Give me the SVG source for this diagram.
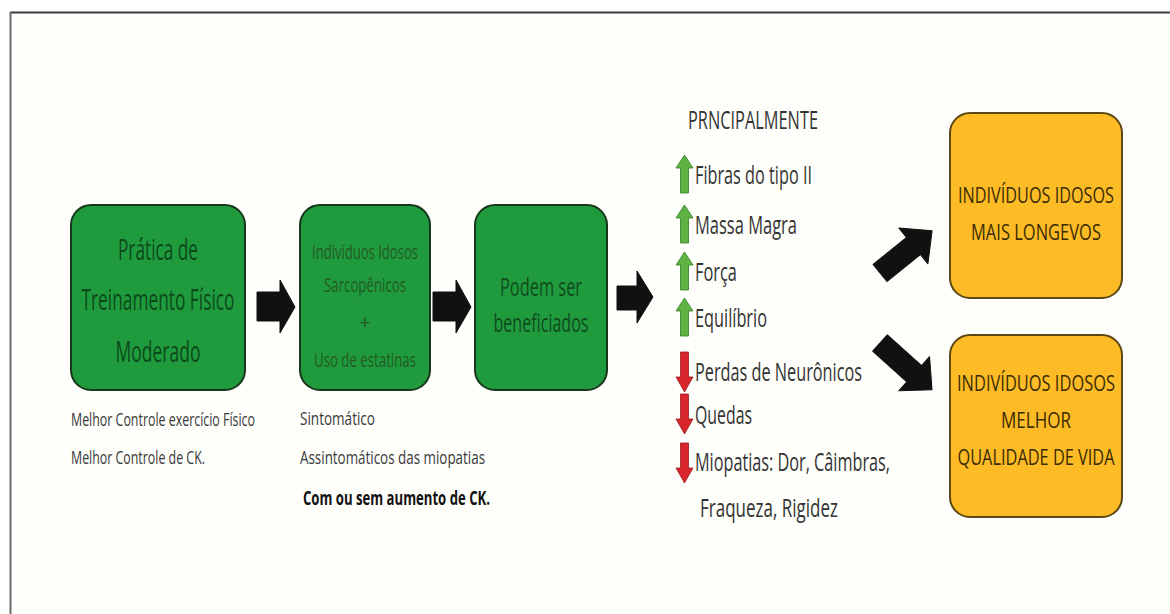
<svg xmlns="http://www.w3.org/2000/svg" xmlns:xlink="http://www.w3.org/1999/xlink" width="1170" height="614" viewBox="0 0 1170 614">
<style>
text{font-family:"Open Sans","Noto Sans","Liberation Sans",sans-serif;}
.gbox{fill:#1f9b3d;stroke:#17361c;stroke-width:2;}
.ybox{fill:#fdbb26;stroke:#5b4812;stroke-width:2;}
.g1{fill:#0c4a1b;font-size:30px;text-anchor:middle;}
.g2{fill:#245a24;font-size:20px;text-anchor:middle;}
.g3{fill:#0f4c1e;font-size:26px;text-anchor:middle;}
.y{fill:#3a2b02;font-size:21px;text-anchor:middle;}
.lab{fill:#3a3a3a;font-size:19px;}
.labb{fill:#111;font-size:19px;font-weight:bold;}
.li{fill:#333;font-size:25px;}
.blk{fill:#111;stroke:#111;stroke-width:1;stroke-linejoin:round;}
</style>
<defs>
<polygon id="up" points="8.5,0 17,13 12.5,13 12.5,38 4.5,38 4.5,13 0,13" fill="#5fb342" stroke="#2f7d25" stroke-width="0.8"/>
<polygon id="down" points="4.5,0 12.5,0 12.5,25 17,25 8.5,40 0,25 4.5,25" fill="#d8262c" stroke="#9e1a1e" stroke-width="0.8"/>
</defs>
<rect x="0" y="0" width="1170" height="614" fill="#ffffff"/>
<rect x="10" y="12" width="1162" height="604" fill="#fefefa"/>
<line x1="10" y1="12.5" x2="1170" y2="12.5" stroke="#3c3c3c" stroke-width="2"/>
<line x1="10.5" y1="12" x2="10.5" y2="614" stroke="#6a6a6a" stroke-width="2"/>

<g id="connectors">
<polygon class="blk" points="257,292 280,292 280,280 295,307 280,333 280,321 257,321"/>
<polygon class="blk" points="433,292 456,292 456,280 471,307 456,333 456,321 433,321"/>
<polygon class="blk" points="617,286 637,286 637,271 653,297 637,323 637,310 617,310"/>
<polygon class="blk" transform="translate(880,273) rotate(-39)" points="0,-11 43,-11 43,-23 67,0 43,23 43,11 0,11"/>
<polygon class="blk" transform="translate(880,343) rotate(42)" points="0,-11 46,-11 46,-23 70,0 46,23 46,11 0,11"/>
</g>

<g id="node-pratica">
<rect class="gbox" x="71" y="205" width="174" height="185" rx="20"/>
<text class="g1" transform="translate(158 260) scale(0.58 1)" textLength="137.9" lengthAdjust="spacingAndGlyphs">Prática de</text>
<text class="g1" transform="translate(158 310) scale(0.58 1)" textLength="263.8" lengthAdjust="spacingAndGlyphs">Treinamento Físico</text>
<text class="g1" transform="translate(158 362) scale(0.58 1)" textLength="146.6" lengthAdjust="spacingAndGlyphs">Moderado</text>
</g>
<g id="label-pratica">
<text class="lab" transform="translate(71 426) scale(0.58 1)" textLength="317.2" lengthAdjust="spacingAndGlyphs">Melhor Controle exercício Físico</text>
<text class="lab" transform="translate(71 464) scale(0.58 1)" textLength="231" lengthAdjust="spacingAndGlyphs">Melhor Controle de CK.</text>
</g>

<g id="node-individuos">
<rect class="gbox" x="300" y="205" width="130" height="185" rx="20"/>
<text class="g2" transform="translate(365 259) scale(0.58 1)" textLength="182.8" lengthAdjust="spacingAndGlyphs">Indivíduos Idosos</text>
<text class="g2" transform="translate(365 292) scale(0.58 1)" textLength="141.4" lengthAdjust="spacingAndGlyphs">Sarcopênicos</text>
<text class="g2" transform="translate(365 329)">+</text>
<text class="g2" transform="translate(365 367) scale(0.58 1)" textLength="175.9" lengthAdjust="spacingAndGlyphs">Uso de estatinas</text>
</g>
<g id="label-individuos">
<text class="lab" transform="translate(300 425) scale(0.58 1)" textLength="129.3" lengthAdjust="spacingAndGlyphs">Sintomático</text>
<text class="lab" transform="translate(300 464) scale(0.58 1)" textLength="319" lengthAdjust="spacingAndGlyphs">Assintomáticos das miopatias</text>
<text class="labb" transform="translate(303 505) scale(0.58 1)" textLength="322.4" lengthAdjust="spacingAndGlyphs">Com ou sem aumento de CK.</text>
</g>

<g id="node-podem">
<rect class="gbox" x="475" y="205" width="132" height="185" rx="20"/>
<text class="g3" transform="translate(541 296) scale(0.58 1)" textLength="141.4" lengthAdjust="spacingAndGlyphs">Podem ser</text>
<text class="g3" transform="translate(541 332) scale(0.58 1)" textLength="163.8" lengthAdjust="spacingAndGlyphs">beneficiados</text>
</g>

<g id="list-principalmente">
<text class="li" transform="translate(688 129) scale(0.58 1)" textLength="224.1" lengthAdjust="spacingAndGlyphs">PRNCIPALMENTE</text>
<use href="#up" xlink:href="#up" x="676" y="155"/>
<text class="li" transform="translate(695 184) scale(0.58 1)" textLength="201.7" lengthAdjust="spacingAndGlyphs">Fibras do tipo II</text>
<use href="#up" xlink:href="#up" x="676" y="205"/>
<text class="li" transform="translate(695 234) scale(0.58 1)" textLength="175.9" lengthAdjust="spacingAndGlyphs">Massa Magra</text>
<use href="#up" xlink:href="#up" x="676" y="252"/>
<text class="li" transform="translate(695 281) scale(0.58 1)" textLength="72.4" lengthAdjust="spacingAndGlyphs">Força</text>
<use href="#up" xlink:href="#up" x="676" y="298"/>
<text class="li" transform="translate(695 327) scale(0.58 1)" textLength="124.1" lengthAdjust="spacingAndGlyphs">Equilíbrio</text>
<use href="#down" xlink:href="#down" x="676" y="352"/>
<text class="li" transform="translate(695 381) scale(0.58 1)" textLength="287.9" lengthAdjust="spacingAndGlyphs">Perdas de Neurônicos</text>
<use href="#down" xlink:href="#down" x="676" y="394"/>
<text class="li" transform="translate(695 424) scale(0.58 1)" textLength="98.3" lengthAdjust="spacingAndGlyphs">Quedas</text>
<use href="#down" xlink:href="#down" x="676" y="443"/>
<text class="li" transform="translate(695 471) scale(0.58 1)" textLength="336.2" lengthAdjust="spacingAndGlyphs">Miopatias: Dor, Câimbras,</text>
<text class="li" transform="translate(700 517) scale(0.58 1)" textLength="237.9" lengthAdjust="spacingAndGlyphs">Fraqueza, Rigidez</text>
</g>

<g id="node-longevos">
<rect class="ybox" x="950" y="113" width="172" height="185" rx="20"/>
<text class="y" transform="translate(1036 203) scale(0.58 1)" textLength="269" lengthAdjust="spacingAndGlyphs">INDIVÍDUOS IDOSOS</text>
<text class="y" transform="translate(1036 240) scale(0.58 1)" textLength="224.1" lengthAdjust="spacingAndGlyphs">MAIS LONGEVOS</text>
</g>

<g id="node-qualidade">
<rect class="ybox" x="950" y="335" width="172" height="182" rx="20"/>
<text class="y" transform="translate(1036 391) scale(0.58 1)" textLength="272.4" lengthAdjust="spacingAndGlyphs">INDIVÍDUOS IDOSOS</text>
<text class="y" transform="translate(1036 428) scale(0.58 1)" textLength="120.7" lengthAdjust="spacingAndGlyphs">MELHOR</text>
<text class="y" transform="translate(1036 465) scale(0.58 1)" textLength="270.7" lengthAdjust="spacingAndGlyphs">QUALIDADE DE VIDA</text>
</g>
</svg>
